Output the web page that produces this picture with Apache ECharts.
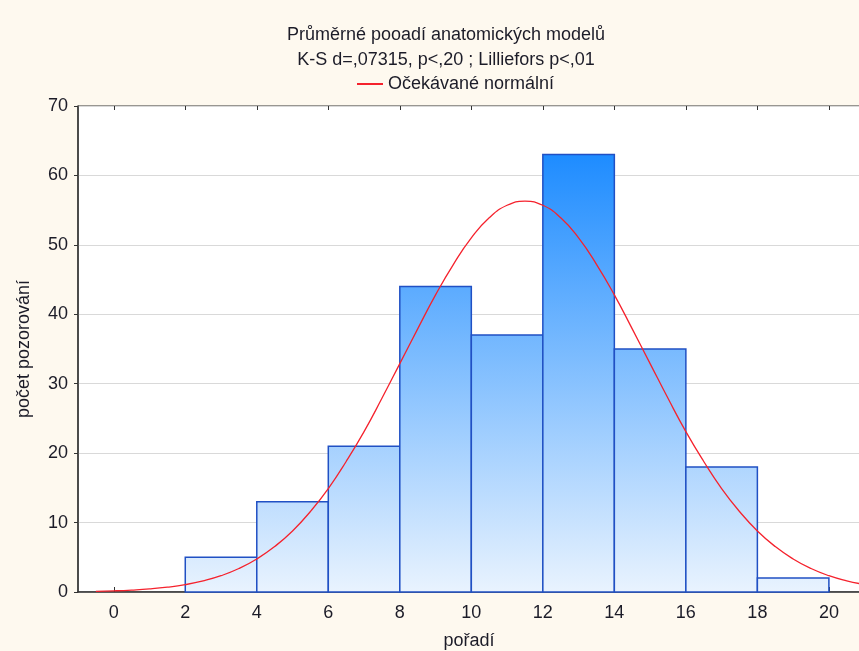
<!DOCTYPE html>
<html>
<head>
    <meta charset="utf-8">
    <title>histogram</title>
    <script src="https://cdn.jsdelivr.net/npm/echarts@6/dist/echarts.min.js"></script>
</head>
<body style="margin:0;">
<div id="chart" style="width: 859px;height:651px;"></div>

<script>
    // histogram bins (from, to, count)
    var binFrom  = [2, 4, 6, 8, 10, 12, 14, 16, 18];
    var binTo    = [4, 6, 8, 10, 12, 14, 16, 18, 20];
    var counts   = [5, 13, 21, 44, 37, 63, 35, 18, 2];
    // expected normal curve
    var curveX   = [-0.5, 0, 0.5, 1, 1.5, 2, 2.5, 3, 3.5, 4, 4.5, 5, 5.5, 6, 6.5, 7, 7.5, 8, 8.5, 9, 9.5, 10, 10.5, 11, 11.5,
                    12, 12.5, 13, 13.5, 14, 14.5, 15, 15.5, 16, 16.5, 17, 17.5, 18, 18.5, 19, 19.5, 20, 20.5, 20.87];
    var curveY   = [0.1, 0.17, 0.28, 0.44, 0.69, 1.06, 1.6, 2.35, 3.38, 4.76, 6.54, 8.79, 11.6, 14.9, 18.8, 23.1, 27.9, 32.9, 37.9, 42.8, 47.2, 51.0, 53.9, 55.7, 56.3,
                    55.7, 53.9, 51.0, 47.2, 42.8, 37.9, 32.9, 27.9, 23.1, 18.8, 14.9, 11.6, 8.79, 6.54, 4.76, 3.38, 2.35, 1.6, 1.2];
    var xTicks   = [0, 2, 4, 6, 8, 10, 12, 14, 16, 18, 20];

    var font = 'Liberation Sans, Arial, sans-serif';
    var txt = '#1c1c28';
    var chart = echarts.init(document.getElementById('chart'));

    var histData = binFrom.map(function (f, i) { return [f, binTo[i], counts[i]]; });
    var lineData = curveX.map(function (x, i) { return [x, curveY[i]]; });

    var option = {
        backgroundColor: '#fef9ef',
        animation: false,
        title: {
            text: 'Průměrné pooadí anatomických modelů\nK-S d=,07315, p<,20 ; Lilliefors p<,01',
            left: 441,
            textAlign: 'center',
            top: 18,
            textStyle: {color: txt, fontFamily: font, fontWeight: 'normal', fontSize: 18, lineHeight: 25}
        },
        legend: {
            top: 70,
            left: 352,
            itemWidth: 26,
            itemHeight: 2,
            itemGap: 8,
            textStyle: {color: txt, fontFamily: font, fontSize: 18},
            data: [{name: 'Očekávané normální', icon: 'rect'}]
        },
        grid: {
            left: 78, top: 106, right: -1, bottom: 59,
            outerBoundsMode: 'none',
            containLabel: false,
            show: true, backgroundColor: '#fff', borderColor: '#333', borderWidth: 1
        },
        xAxis: [{
            type: 'value',
            min: -1, max: 20.87,
            name: 'pořadí',
            nameLocation: 'middle',
            nameGap: 40,
            nameTextStyle: {color: txt, fontFamily: font, fontSize: 18},
            axisLine: {lineStyle: {color: '#333', width: 1.5}},
            axisTick: {inside: true, length: 5, customValues: xTicks, lineStyle: {color: '#333'}},
            axisLabel: {customValues: xTicks, color: txt, fontFamily: font, fontSize: 18, margin: 12},
            splitLine: {show: false}
        }, {
            type: 'value',
            position: 'top',
            min: -1, max: 20.87,
            axisLine: {show: false},
            axisTick: {inside: true, length: 4, customValues: xTicks, lineStyle: {color: '#333'}},
            axisLabel: {show: false},
            splitLine: {show: false}
        }],
        yAxis: {
            type: 'value',
            min: 0, max: 70, interval: 10,
            name: 'počet pozorování',
            nameLocation: 'middle',
            nameGap: 45,
            nameTextStyle: {color: txt, fontFamily: font, fontSize: 18},
            axisLine: {show: true, onZero: false, lineStyle: {color: '#333', width: 1.5}},
            axisTick: {show: true, length: 4, lineStyle: {color: '#333'}},
            axisLabel: {color: txt, fontFamily: font, fontSize: 18, margin: 10},
            splitLine: {show: true, lineStyle: {color: '#d9d9d9', width: 1}}
        },
        series: [{
            type: 'custom',
            name: 'hist',
            data: histData,
            encode: {x: [0, 1], y: 2},
            renderItem: function (params, api) {
                var p0 = api.coord([api.value(0), api.value(2)]);
                var p1 = api.coord([api.value(1), 0]);
                var yTop = api.coord([0, 63])[1];
                var yBot = api.coord([0, 0])[1];
                return {
                    type: 'rect',
                    shape: {x: p0[0], y: p0[1], width: p1[0] - p0[0], height: p1[1] - p0[1]},
                    style: {
                        fill: new echarts.graphic.LinearGradient(0, yTop, 0, yBot, [
                            {offset: 0, color: '#1e8cff'},
                            {offset: 1, color: '#e9f3fe'}
                        ], true),
                        stroke: '#2050c4',
                        lineWidth: 1.5
                    }
                };
            },
            z: 2
        }, {
            type: 'line',
            name: 'Očekávané normální',
            data: lineData,
            smooth: true,
            showSymbol: false,
            lineStyle: {color: '#f5222d', width: 1.3},
            itemStyle: {color: '#f5222d'},
            z: 3
        }]
    };

    chart.setOption(option);
</script>
</body>
</html>
